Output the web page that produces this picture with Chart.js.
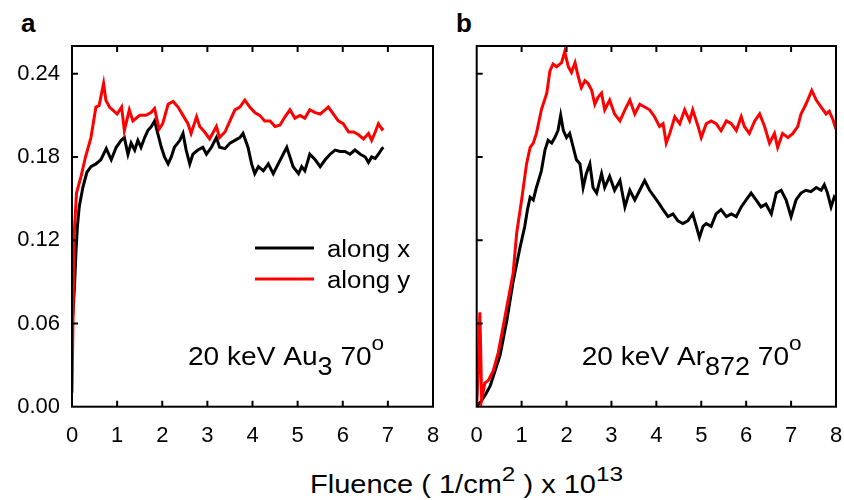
<!DOCTYPE html>
<html>
<head>
<meta charset="utf-8">
<script src="https://cdn.jsdelivr.net/npm/chart.js@4.4.1/dist/chart.umd.min.js"></script>
<style>
  html, body { margin: 0; padding: 0; background: #fff; }
  body { width: 844px; height: 500px; position: relative; overflow: hidden; font-family: "Liberation Sans", Arial, sans-serif; color: #000; }
  .panel { position: absolute; top: 0; height: 450px; }
  #wrapA { left: 0; width: 445px; }
  #wrapB { left: 440px; width: 404px; }
  .tag { position: absolute; top: 10px; font-size: 26px; line-height: 26px; font-weight: bold; }
  #xTitle { position: absolute; left: 310px; top: 472px; font-size: 25px; line-height: 25px; white-space: nowrap; transform: scaleX(1.16); transform-origin: 0 0; }
  #xTitle sup { font-size: 21px; line-height: 0; vertical-align: 12px; }
</style>
</head>
<body>
<div class="tag" style="left:21px">a</div>
<div class="tag" style="left:456px">b</div>
<div class="panel" id="wrapA"><canvas id="chartA" width="445" height="450"></canvas></div>
<div class="panel" id="wrapB"><canvas id="chartB" width="404" height="450"></canvas></div>
<div id="xTitle">Fluence ( 1/cm<sup>2</sup> ) x 10<sup>13</sup></div>

<script>
// Axis ticks
const xTicks = [0, 1, 2, 3, 4, 5, 6, 7, 8];
const yTicks = [0, 0.06, 0.12, 0.18, 0.24];
const yMax = 0.26;

// Panel a: 20 keV Au3
const auAlongXFluence = [0.02,0.06,0.09,0.12,0.16,0.24,0.33,0.42,0.53,0.64,0.76,0.87,0.98,1.09,1.16,1.24,1.31,1.39,1.46,1.53,1.61,1.68,1.76,1.83,1.9,1.98,2.05,2.13,2.2,2.27,2.39,2.46,2.53,2.61,2.68,2.79,2.9,2.98,3.09,3.2,3.27,3.39,3.5,3.61,3.72,3.79,3.9,3.98,4.05,4.13,4.24,4.35,4.46,4.57,4.68,4.76,4.83,4.9,5.02,5.09,5.16,5.27,5.39,5.5,5.61,5.72,5.83,5.94,6.05,6.16,6.27,6.39,6.5,6.57,6.64,6.72,6.79,6.87,6.9];
const auAlongX = [0.066,0.09,0.113,0.13,0.144,0.158,0.169,0.173,0.175,0.178,0.186,0.178,0.187,0.192,0.194,0.182,0.19,0.185,0.192,0.187,0.194,0.199,0.202,0.206,0.197,0.187,0.18,0.175,0.18,0.187,0.192,0.197,0.185,0.175,0.182,0.185,0.187,0.182,0.187,0.194,0.187,0.186,0.19,0.192,0.194,0.197,0.187,0.175,0.168,0.173,0.17,0.175,0.168,0.175,0.182,0.187,0.18,0.173,0.168,0.173,0.17,0.182,0.178,0.173,0.178,0.182,0.185,0.184,0.184,0.182,0.185,0.182,0.18,0.176,0.18,0.179,0.182,0.186,0.187];
const auAlongYFluence = [0,0.03,0.05,0.1,0.2,0.3,0.42,0.53,0.6,0.7,0.75,0.83,0.9,1.0,1.1,1.16,1.27,1.35,1.5,1.64,1.75,1.83,1.93,2.01,2.13,2.24,2.35,2.46,2.57,2.64,2.76,2.83,2.94,3.05,3.2,3.27,3.39,3.5,3.61,3.72,3.83,3.94,4.05,4.16,4.27,4.39,4.5,4.61,4.72,4.83,4.94,5.05,5.16,5.27,5.39,5.5,5.61,5.68,5.79,5.9,6.01,6.13,6.24,6.35,6.46,6.57,6.64,6.72,6.79,6.87,6.9];
const auAlongY = [0.01,0.08,0.125,0.154,0.166,0.18,0.194,0.216,0.217,0.233,0.221,0.216,0.214,0.211,0.216,0.199,0.214,0.206,0.21,0.21,0.212,0.215,0.2,0.204,0.218,0.22,0.216,0.21,0.204,0.197,0.209,0.202,0.198,0.193,0.202,0.194,0.198,0.206,0.214,0.216,0.221,0.216,0.212,0.21,0.206,0.206,0.202,0.203,0.209,0.214,0.208,0.21,0.208,0.214,0.212,0.211,0.214,0.216,0.211,0.206,0.204,0.198,0.198,0.196,0.193,0.197,0.192,0.198,0.204,0.2,0.201];

// Panel b: 20 keV Ar872
const arAlongXFluence = [0,0.1,0.2,0.3,0.37,0.52,0.67,0.81,0.96,1.07,1.13,1.19,1.26,1.33,1.44,1.52,1.59,1.67,1.74,1.81,1.87,1.93,2.0,2.07,2.15,2.22,2.3,2.37,2.44,2.52,2.59,2.67,2.78,2.85,2.96,3.07,3.19,3.3,3.41,3.52,3.63,3.74,3.85,3.96,4.07,4.15,4.26,4.37,4.48,4.59,4.7,4.81,4.89,4.96,5.04,5.11,5.22,5.33,5.44,5.56,5.67,5.78,5.89,6.0,6.11,6.22,6.33,6.44,6.56,6.67,6.78,6.89,7.0,7.11,7.22,7.33,7.44,7.56,7.67,7.74,7.81,7.89,7.96,8.0];
const arAlongX = [0,0.004,0.009,0.015,0.022,0.037,0.062,0.09,0.114,0.13,0.142,0.151,0.149,0.158,0.17,0.185,0.192,0.19,0.194,0.199,0.21,0.199,0.194,0.197,0.187,0.178,0.175,0.158,0.168,0.175,0.158,0.154,0.168,0.158,0.166,0.156,0.163,0.144,0.156,0.149,0.156,0.163,0.156,0.151,0.146,0.142,0.137,0.139,0.134,0.132,0.134,0.139,0.13,0.122,0.13,0.132,0.13,0.139,0.142,0.137,0.139,0.137,0.144,0.149,0.154,0.149,0.144,0.146,0.139,0.154,0.156,0.149,0.137,0.149,0.154,0.156,0.155,0.158,0.156,0.16,0.154,0.144,0.151,0.149];
const arAlongYFluence = [0,0.04,0.07,0.09,0.11,0.18,0.26,0.37,0.48,0.59,0.7,0.81,0.89,1.0,1.11,1.19,1.26,1.33,1.44,1.56,1.63,1.7,1.78,1.89,1.96,2.04,2.11,2.19,2.26,2.33,2.41,2.48,2.56,2.63,2.7,2.78,2.85,2.96,3.07,3.19,3.3,3.41,3.52,3.63,3.74,3.85,3.96,4.07,4.15,4.22,4.3,4.41,4.52,4.63,4.74,4.81,4.93,5.0,5.11,5.22,5.33,5.44,5.56,5.67,5.78,5.89,5.96,6.07,6.19,6.3,6.41,6.52,6.63,6.7,6.81,6.93,7.04,7.15,7.22,7.33,7.46,7.56,7.67,7.78,7.85,7.93,8.0];
const arAlongY = [0,0.03,0.068,0.04,0.005,0.017,0.019,0.026,0.039,0.058,0.077,0.096,0.125,0.149,0.175,0.187,0.19,0.197,0.214,0.226,0.242,0.247,0.245,0.248,0.256,0.245,0.241,0.248,0.238,0.23,0.235,0.233,0.228,0.218,0.223,0.226,0.214,0.221,0.211,0.206,0.214,0.221,0.211,0.218,0.216,0.214,0.209,0.202,0.204,0.19,0.197,0.209,0.204,0.214,0.206,0.214,0.202,0.194,0.204,0.206,0.204,0.199,0.206,0.204,0.199,0.209,0.202,0.197,0.206,0.211,0.202,0.19,0.197,0.187,0.197,0.194,0.197,0.202,0.211,0.218,0.228,0.221,0.216,0.211,0.213,0.207,0.2];

const FONT = '"Liberation Sans", Arial, sans-serif';

// draw text stretched horizontally, returns advance
function drawText(ctx, str, x, y, size, sx) {
    ctx.font = `${size}px ${FONT}`;
    const w = ctx.measureText(str).width * sx;
    ctx.save();
    ctx.translate(x, y);
    ctx.scale(sx, 1);
    ctx.fillText(str, 0, 0);
    ctx.restore();
    return w;
}

// Box, inward ticks, legend and label inside the plot
const framePlugin = {
    id: 'frame',
    afterDatasetsDraw(chart, args, opts) {
        const { ctx, chartArea: a, scales: { x, y } } = chart;
        ctx.save();
        ctx.strokeStyle = '#000';
        ctx.lineWidth = 2;
        ctx.strokeRect(a.left, a.top, a.right - a.left, a.bottom - a.top);

        ctx.beginPath();
        xTicks.slice(1, -1).forEach(v => {
            const px = x.getPixelForValue(v);
            ctx.moveTo(px, a.bottom); ctx.lineTo(px, a.bottom - 6);
            ctx.moveTo(px, a.top); ctx.lineTo(px, a.top + 6);
        });
        yTicks.slice(1).forEach(v => {
            const py = y.getPixelForValue(v);
            ctx.moveTo(a.left, py); ctx.lineTo(a.left + 6, py);
        });
        ctx.stroke();

        ctx.fillStyle = '#000';
        ctx.textBaseline = 'alphabetic';
        ctx.textAlign = 'left';

        if (opts.legend) {
            chart.data.datasets.forEach((ds, i) => {
                const ly = a.top + 202 + i * 31;
                ctx.strokeStyle = ds.borderColor;
                ctx.lineWidth = 3;
                ctx.beginPath();
                ctx.moveTo(a.left + 183, ly);
                ctx.lineTo(a.left + 242, ly);
                ctx.stroke();
                drawText(ctx, ds.label, a.left + 255, ly + 9, 23, 1.12);
            });
        }

        if (opts.note) {
            let nx = a.left + opts.noteX;
            const base = a.top + 319;
            opts.note.forEach(p => {
                nx += drawText(ctx, p.text, nx, base + p.dy, p.size, 1.08);
            });
        }
        ctx.restore();
    }
};

function makeChart(id, series, yAxisWidth, padRight, showYLabels, frameOpts) {
    const datasets = series.map(s => ({
        label: s.label,
        data: s.xs.map((v, i) => ({ x: v, y: s.ys[i] })),
        borderColor: s.color,
        borderWidth: 3,
        pointRadius: 0,
        tension: 0,
        fill: false,
        order: s.order
    }));
    return new Chart(document.getElementById(id), {
        type: 'line',
        data: { datasets },
        options: {
            responsive: false,
            animation: false,
            events: [],
            layout: { padding: { top: 46, right: padRight, left: 0, bottom: 0 } },
            plugins: {
                legend: { display: false },
                tooltip: { enabled: false },
                frame: frameOpts
            },
            scales: {
                x: {
                    type: 'linear',
                    min: 0,
                    max: 8,
                    afterBuildTicks: s => { s.ticks = xTicks.map(v => ({ value: v })); },
                    afterFit: s => {
                        s.height = 43.3;
                        s.paddingLeft = 0;
                        s.paddingRight = 0;
                    },
                    grid: { display: false, drawTicks: false },
                    border: { display: false },
                    ticks: {
                        color: '#000',
                        font: { family: FONT, size: 22 },
                        padding: 16,
                        maxRotation: 0,
                        autoSkip: false,
                        callback: v => String(v)
                    }
                },
                y: {
                    type: 'linear',
                    min: 0,
                    max: yMax,
                    afterBuildTicks: s => { s.ticks = yTicks.map(v => ({ value: v })); },
                    afterFit: s => {
                        s.width = yAxisWidth;
                        s.paddingTop = 0;
                        s.paddingBottom = 0;
                    },
                    grid: { display: false, drawTicks: false },
                    border: { display: false },
                    ticks: {
                        display: showYLabels,
                        color: '#000',
                        font: { family: FONT, size: 22 },
                        padding: 12,
                        callback: v => v.toFixed(2)
                    }
                }
            }
        },
        plugins: [framePlugin]
    });
}

makeChart('chartA', [
    { label: 'along x', xs: auAlongXFluence, ys: auAlongX, color: '#000000', order: 1 },
    { label: 'along y', xs: auAlongYFluence, ys: auAlongY, color: '#ff0000', order: 0 }
], 72, 12, true, {
    legend: true,
    noteX: 116,
    note: [
        { text: '20 keV Au', size: 26, dy: 0 },
        { text: '3', size: 25, dy: 10 },
        { text: ' 70', size: 26, dy: 0 },
        { text: 'o', size: 21, dy: -15 }
    ]
});

makeChart('chartB', [
    { label: 'along x', xs: arAlongXFluence, ys: arAlongX, color: '#000000', order: 1 },
    { label: 'along y', xs: arAlongYFluence, ys: arAlongY, color: '#ff0000', order: 0 }
], 36.7, 8, false, {
    legend: false,
    noteX: 105,
    note: [
        { text: '20 keV Ar', size: 26, dy: 0 },
        { text: '872', size: 25, dy: 10 },
        { text: ' 70', size: 26, dy: 0 },
        { text: 'o', size: 21, dy: -15 }
    ]
});
</script>
</body>
</html>
